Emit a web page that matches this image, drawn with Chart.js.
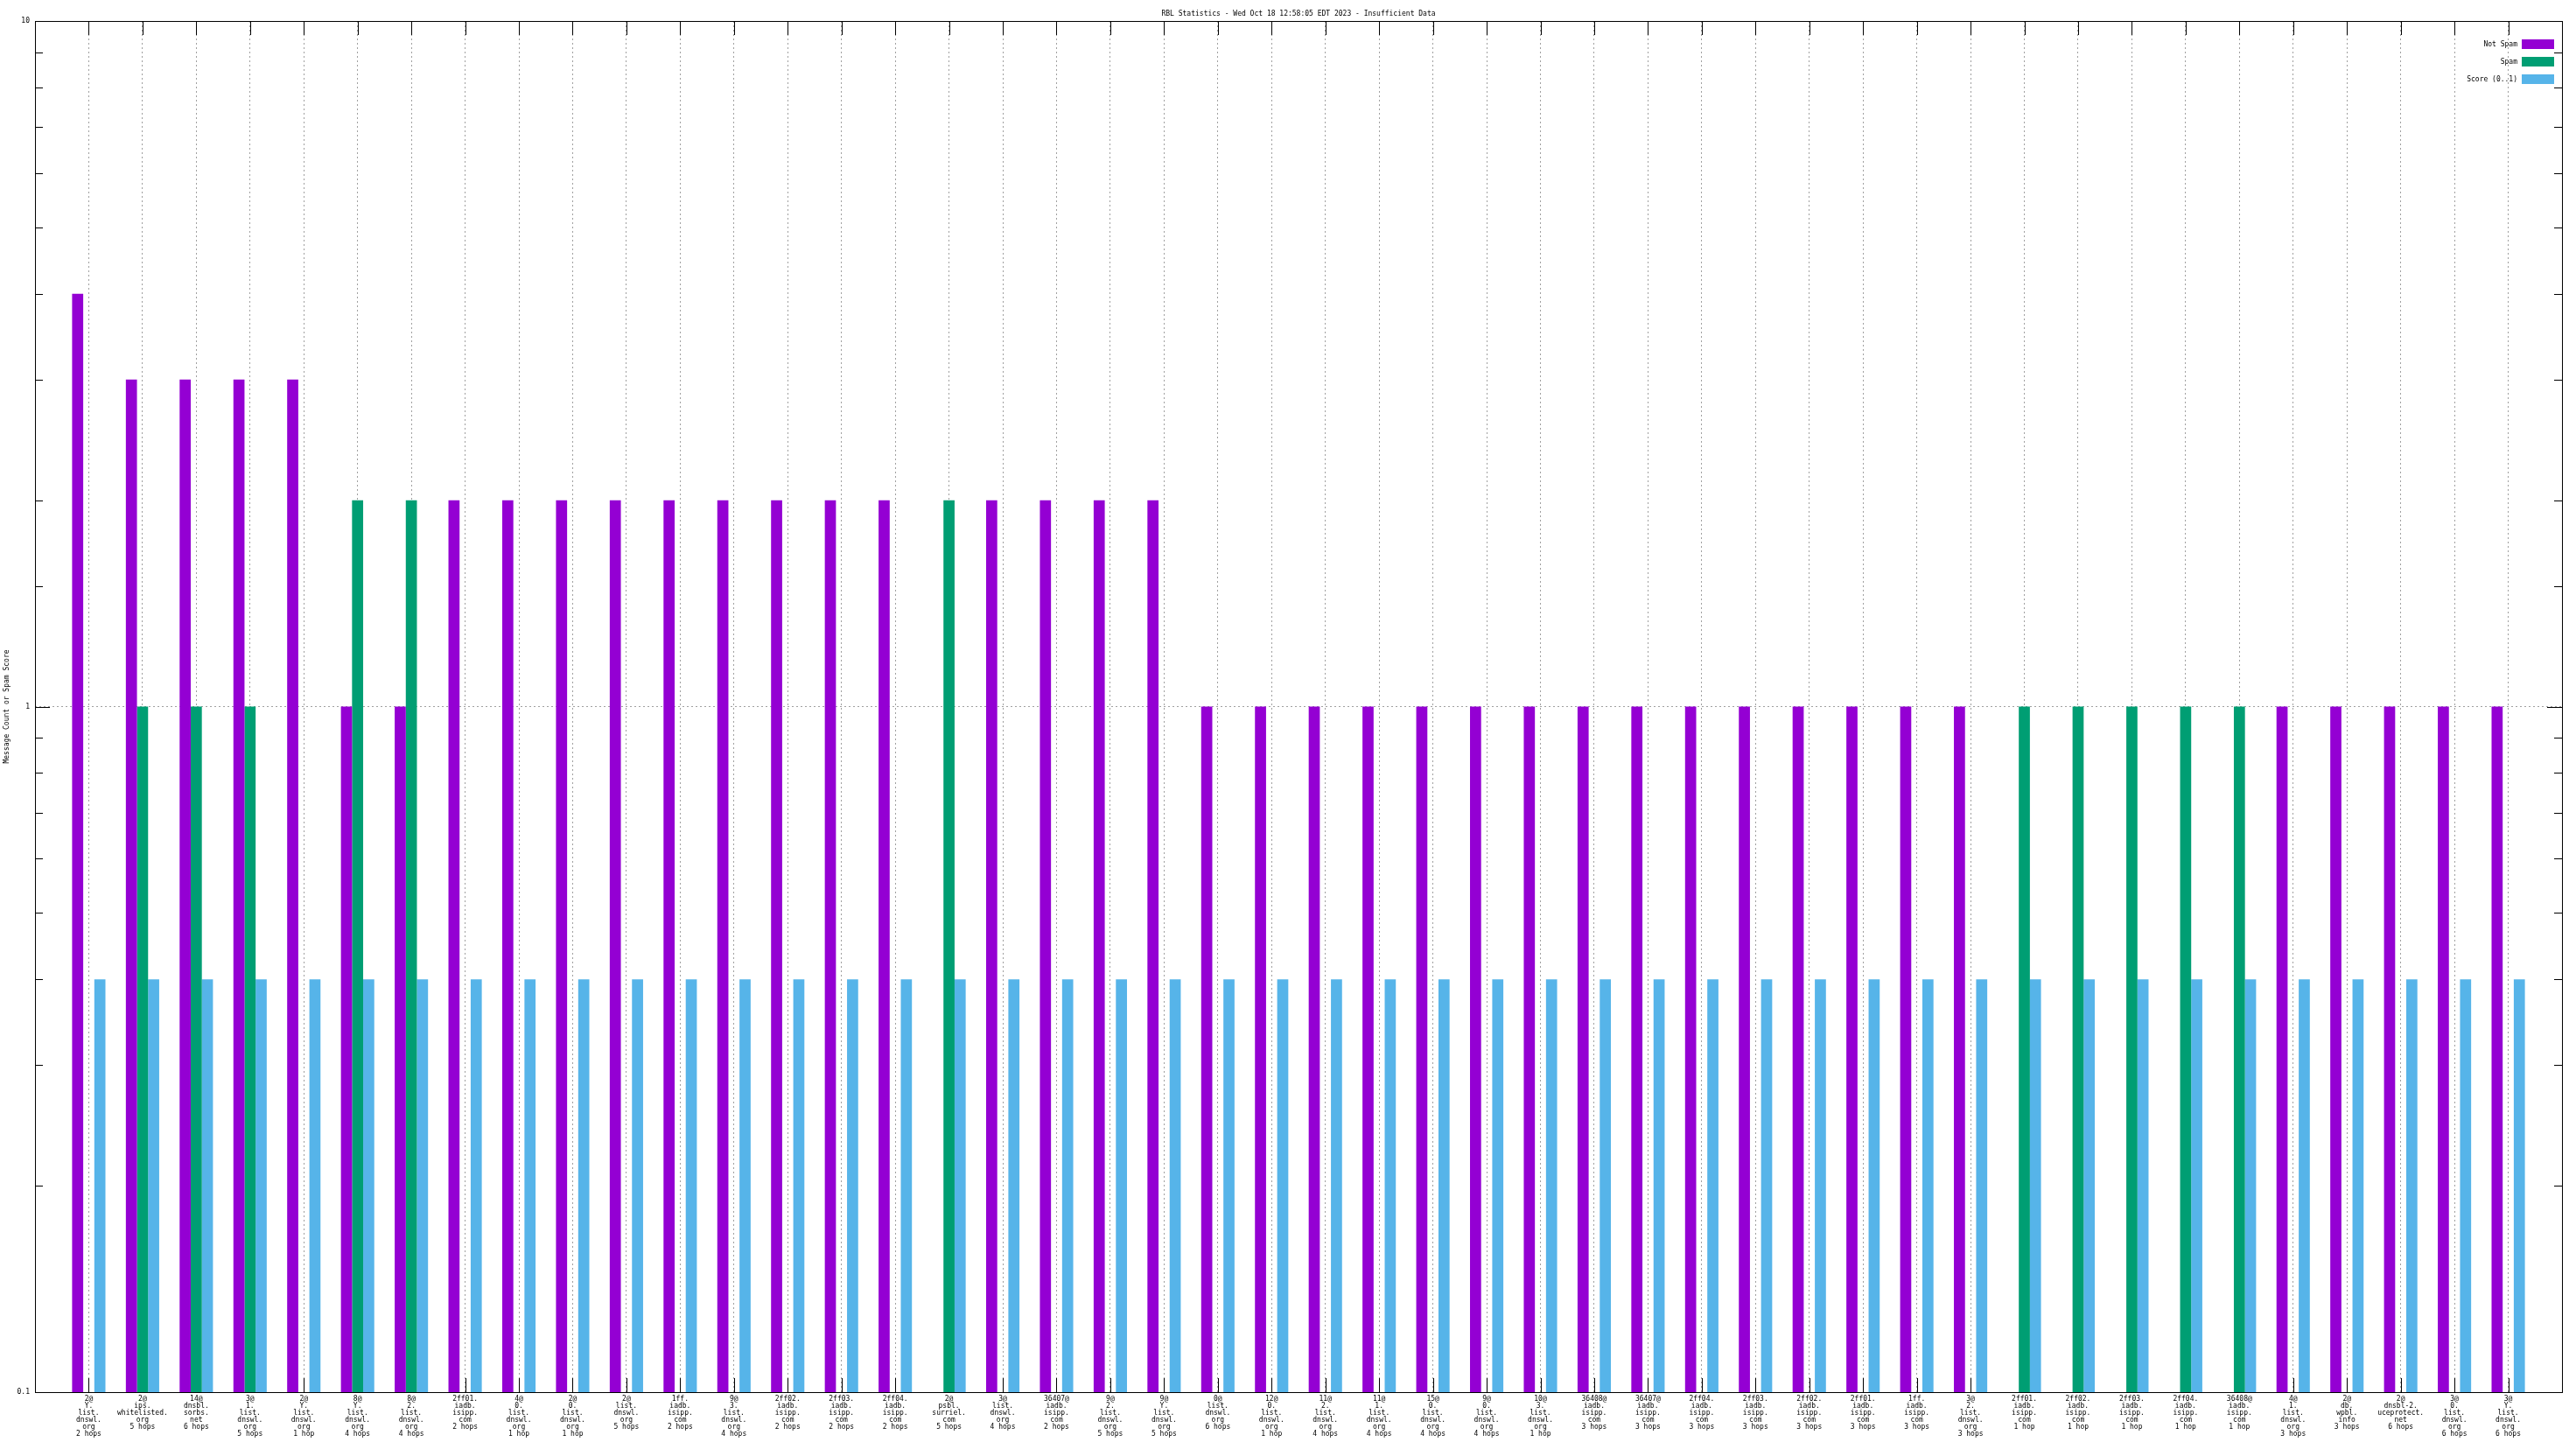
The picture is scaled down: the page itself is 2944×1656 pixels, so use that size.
<!DOCTYPE html>
<html>
<head>
<meta charset="utf-8">
<title>RBL Statistics</title>
<script src="https://cdn.jsdelivr.net/npm/chart.js@4/dist/chart.umd.min.js"></script>
<style>
  html, body { margin: 0; padding: 0; background: #fff; }
  #wrap { position: relative; width: 2944px; height: 1656px; }
</style>
</head>
<body>
<div id="wrap"><canvas id="rbl"></canvas></div>
<script>
const TITLE = 'RBL Statistics - Wed Oct 18 12:58:05 EDT 2023 - Insufficient Data';
const Y_TITLE = 'Message Count or Spam Score';

// one entry per category, each line of the tick label
const categories = [
  ['2@', 'Y.', 'list.', 'dnswl.', 'org', '2 hops'],
  ['2@', 'ips.', 'whitelisted.', 'org', '5 hops'],
  ['14@', 'dnsbl.', 'sorbs.', 'net', '6 hops'],
  ['3@', '1.', 'list.', 'dnswl.', 'org', '5 hops'],
  ['2@', 'Y.', 'list.', 'dnswl.', 'org', '1 hop'],
  ['8@', 'Y.', 'list.', 'dnswl.', 'org', '4 hops'],
  ['8@', '2.', 'list.', 'dnswl.', 'org', '4 hops'],
  ['2ff01.', 'iadb.', 'isipp.', 'com', '2 hops'],
  ['4@', '0.', 'list.', 'dnswl.', 'org', '1 hop'],
  ['2@', '0.', 'list.', 'dnswl.', 'org', '1 hop'],
  ['2@', 'list.', 'dnswl.', 'org', '5 hops'],
  ['1ff.', 'iadb.', 'isipp.', 'com', '2 hops'],
  ['9@', '3.', 'list.', 'dnswl.', 'org', '4 hops'],
  ['2ff02.', 'iadb.', 'isipp.', 'com', '2 hops'],
  ['2ff03.', 'iadb.', 'isipp.', 'com', '2 hops'],
  ['2ff04.', 'iadb.', 'isipp.', 'com', '2 hops'],
  ['2@', 'psbl.', 'surriel.', 'com', '5 hops'],
  ['3@', 'list.', 'dnswl.', 'org', '4 hops'],
  ['36407@', 'iadb.', 'isipp.', 'com', '2 hops'],
  ['9@', '2.', 'list.', 'dnswl.', 'org', '5 hops'],
  ['9@', 'Y.', 'list.', 'dnswl.', 'org', '5 hops'],
  ['0@', 'list.', 'dnswl.', 'org', '6 hops'],
  ['12@', '0.', 'list.', 'dnswl.', 'org', '1 hop'],
  ['11@', '2.', 'list.', 'dnswl.', 'org', '4 hops'],
  ['11@', '1.', 'list.', 'dnswl.', 'org', '4 hops'],
  ['15@', '0.', 'list.', 'dnswl.', 'org', '4 hops'],
  ['9@', '0.', 'list.', 'dnswl.', 'org', '4 hops'],
  ['10@', '3.', 'list.', 'dnswl.', 'org', '1 hop'],
  ['36408@', 'iadb.', 'isipp.', 'com', '3 hops'],
  ['36407@', 'iadb.', 'isipp.', 'com', '3 hops'],
  ['2ff04.', 'iadb.', 'isipp.', 'com', '3 hops'],
  ['2ff03.', 'iadb.', 'isipp.', 'com', '3 hops'],
  ['2ff02.', 'iadb.', 'isipp.', 'com', '3 hops'],
  ['2ff01.', 'iadb.', 'isipp.', 'com', '3 hops'],
  ['1ff.', 'iadb.', 'isipp.', 'com', '3 hops'],
  ['3@', '2.', 'list.', 'dnswl.', 'org', '3 hops'],
  ['2ff01.', 'iadb.', 'isipp.', 'com', '1 hop'],
  ['2ff02.', 'iadb.', 'isipp.', 'com', '1 hop'],
  ['2ff03.', 'iadb.', 'isipp.', 'com', '1 hop'],
  ['2ff04.', 'iadb.', 'isipp.', 'com', '1 hop'],
  ['36408@', 'iadb.', 'isipp.', 'com', '1 hop'],
  ['4@', '1.', 'list.', 'dnswl.', 'org', '3 hops'],
  ['2@', 'db.', 'wpbl.', 'info', '3 hops'],
  ['2@', 'dnsbl-2.', 'uceprotect.', 'net', '6 hops'],
  ['3@', '0.', 'list.', 'dnswl.', 'org', '6 hops'],
  ['3@', 'Y.', 'list.', 'dnswl.', 'org', '6 hops']
];

// null = no bar (zero count on a log axis)
const notSpam = [4, 3, 3, 3, 3, 1, 1, 2, 2, 2, 2, 2, 2, 2, 2, 2, null, 2, 2, 2, 2,
  1, 1, 1, 1, 1, 1, 1, 1, 1, 1, 1, 1, 1, 1, 1, null, null, null, null, null, 1, 1, 1, 1, 1];
const spam = [null, 1, 1, 1, null, 2, 2, null, null, null, null, null, null, null, null, null, 2, null, null, null, null,
  null, null, null, null, null, null, null, null, null, null, null, null, null, null, null, 1, 1, 1, 1, 1, null, null, null, null, null];
const score = [0.4, 0.4, 0.4, 0.4, 0.4, 0.4, 0.4, 0.4, 0.4, 0.4, 0.4, 0.4, 0.4, 0.4, 0.4, 0.4, 0.4, 0.4, 0.4, 0.4, 0.4,
  0.4, 0.4, 0.4, 0.4, 0.4, 0.4, 0.4, 0.4, 0.4, 0.4, 0.4, 0.4, 0.4, 0.4, 0.4, 0.4, 0.4, 0.4, 0.4, 0.4, 0.4, 0.4, 0.4, 0.4, 0.4];

const yTickLabels = ['0.1', '1', '10'];

const FONT = 'DejaVu Sans Mono';
const GRID = '#a0a0a0';

// gnuplot leaves one empty slot on each side of the histogram
const pad = a => [null].concat(a, [null]);
const labels = [''].concat(categories, ['']);

const isMajor = v => Math.abs(Math.log10(v) - Math.round(Math.log10(v))) < 1e-6;

// inward tick marks on all four sides, drawn under the bars like gnuplot does
const gnuTicks = {
  id: 'gnuTicks',
  beforeDatasetsDraw(chart) {
    const { ctx, chartArea: a, scales: { x, y } } = chart;
    ctx.save();
    ctx.strokeStyle = '#000';
    ctx.lineWidth = 1;
    ctx.beginPath();
    x.ticks.forEach((t, i) => {
      if (i === 0 || i === x.ticks.length - 1) return;
      const px = Math.round(x.getPixelForTick(i)) + 0.5;
      ctx.moveTo(px, a.bottom); ctx.lineTo(px, a.bottom - 16);
      ctx.moveTo(px, a.top); ctx.lineTo(px, a.top + 16);
    });
    y.ticks.forEach(t => {
      const py = Math.round(y.getPixelForValue(t.value)) + 0.5;
      const len = isMajor(t.value) ? 17 : 9;
      ctx.moveTo(a.left, py); ctx.lineTo(a.left + len, py);
      ctx.moveTo(a.right, py); ctx.lineTo(a.right - len, py);
    });
    ctx.stroke();
    ctx.restore();
  },
  afterDraw(chart) {
    const { ctx, chartArea: a } = chart;
    ctx.save();
    // frame
    ctx.strokeStyle = '#000';
    ctx.lineWidth = 1;
    ctx.strokeRect(Math.round(a.left) + 0.5, Math.round(a.top) + 0.5,
      Math.round(a.right - a.left), Math.round(a.bottom - a.top));
    // title centred over the plot
    ctx.fillStyle = '#000';
    ctx.font = `8px "${FONT}"`;
    ctx.textAlign = 'center';
    ctx.textBaseline = 'middle';
    ctx.fillText(TITLE, (a.left + a.right) / 2, 16);
    // key: text to the left of the sample box, top right inside the plot
    chart.data.datasets.forEach((ds, i) => {
      const cy = 50 + i * 20;
      ctx.fillStyle = ds.backgroundColor;
      ctx.fillRect(a.right - 46, cy - 5, 37, 11);
      ctx.fillStyle = '#000';
      ctx.textAlign = 'right';
      ctx.fillText(ds.label, a.right - 51, cy + 0.5);
    });
    ctx.restore();
  }
};

new Chart(document.getElementById('rbl'), {
  type: 'bar',
  data: {
    labels,
    datasets: [
      { label: 'Not Spam', data: pad(notSpam), backgroundColor: '#9400d3' },
      { label: 'Spam', data: pad(spam), backgroundColor: '#009e73' },
      { label: 'Score (0..1)', data: pad(score), backgroundColor: '#56b4e9' }
    ]
  },
  options: {
    responsive: true,
    maintainAspectRatio: false,
    animation: false,
    devicePixelRatio: 1,
    layout: { padding: { top: 24, right: 16, left: 0, bottom: 0 } },
    datasets: { bar: { categoryPercentage: 0.62, barPercentage: 1, borderWidth: 0 } },
    plugins: { legend: { display: false }, title: { display: false }, tooltip: { enabled: false } },
    scales: {
      x: {
        offset: false,
        grid: {
          offset: false,
          drawTicks: false,
          lineWidth: 1,
          color: c => (c.index === 0 || c.index === labels.length - 1) ? 'rgba(0,0,0,0)' : GRID
        },
        border: { display: false, dash: [2, 3] },
        ticks: {
          autoSkip: false, maxRotation: 0, minRotation: 0, padding: 4, color: '#000',
          font: { family: FONT, size: 8, lineHeight: 1 }
        },
        afterFit: s => { s.height = 65; }
      },
      y: {
        type: 'logarithmic',
        min: 0.1,
        max: 10,
        grid: {
          drawTicks: false,
          lineWidth: 1,
          color: c => (c.tick && Math.abs(c.tick.value - 1) < 1e-9) ? GRID : 'rgba(0,0,0,0)'
        },
        border: { display: false, dash: [2, 3] },
        ticks: {
          autoSkip: false, padding: 6, color: '#000',
          font: { family: FONT, size: 8 },
          callback: v => {
            const s = yTickLabels.find(l => Math.abs(parseFloat(l) - v) < 1e-9);
            return s === undefined ? '' : s;
          }
        },
        title: {
          display: true, text: Y_TITLE, color: '#000',
          font: { family: FONT, size: 8 }, padding: { top: 3, bottom: 0 }
        },
        afterFit: s => { s.width = 40; }
      }
    }
  },
  plugins: [gnuTicks]
});
</script>
</body>
</html>
